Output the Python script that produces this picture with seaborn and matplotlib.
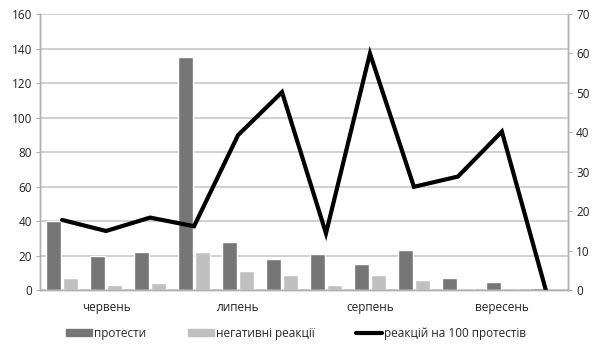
import matplotlib.pyplot as plt
import numpy as np
import pandas as pd
import seaborn as sns

# weekly data, June - September
weeks = [str(i) for i in range(1, 13)]
protests = [40, 20, 22, 135, 28, 18, 21, 15, 23, 7, 5, 1.5]
negative = [7, 3, 4, 22, 11, 9, 3, 9, 6, 1.5, 1.5, 0]
per_100 = [17.8, 15.0, 18.4, 16.2, 39.3, 50.2, 14.4, 60.0, 26.2, 28.8, 40.2, 0]

months = ["червень", "липень", "серпень", "вересень"]
month_weeks = ["2", "5", "8", "11"]

names = ["протести", "негативні реакції", "реакцій на 100 протестів"]

sns.set_style("white")
plt.rcParams["font.family"] = ["Open Sans", "DejaVu Sans"]

df = pd.DataFrame({
    "week": weeks * 2,
    "value": protests + negative,
    "series": [names[0]] * 12 + [names[1]] * 12,
})

fig, ax = plt.subplots(figsize=(5.99, 3.6), dpi=100)
fig.subplots_adjust(left=0.067, right=0.948, bottom=0.194, top=0.961)

sns.barplot(data=df, x="week", y="value", hue="series",
            palette=["#767676", "#c0c0c0"], width=0.76, gap=0.08,
            saturation=1, legend=False, ax=ax, zorder=2)

ax.set_xlim(-0.5, 11.5)
ax.set_ylim(0, 160)
ax.set_yticks(range(0, 161, 20))
ax.yaxis.grid(True, color="#c8c8c8", linewidth=1.2, zorder=0)
ax.set_axisbelow(True)
ax.set_xticks([weeks.index(w) for w in month_weeks])
ax.set_xticklabels(months)
ax.set_xlabel("")
ax.set_ylabel("")
ax.tick_params(axis="x", length=0, pad=8, labelsize=8.5, colors="#222222")
ax.tick_params(axis="y", length=3, color="#b0b0b0", labelcolor="#222222",
               labelsize=8.5, pad=3)

ax2 = ax.twinx()
sns.lineplot(x=np.arange(len(weeks)), y=per_100, color="black",
             linewidth=3, ax=ax2, solid_joinstyle="miter")
ax2.set_ylim(0, 70)
ax2.set_yticks(range(0, 71, 10))
ax2.tick_params(axis="y", length=3, color="#b0b0b0", labelcolor="#222222",
                labelsize=8.5, pad=3)

for a in (ax, ax2):
    a.spines["top"].set_visible(False)
    for s in ("left", "right", "bottom"):
        a.spines[s].set_color("#b0b0b0")
        a.spines[s].set_linewidth(1.0)

handles = [
    plt.Rectangle((0, 0), 1, 1, color="#767676"),
    plt.Rectangle((0, 0), 1, 1, color="#c0c0c0"),
    plt.Line2D([0], [0], color="black", linewidth=3),
]
fig.legend(handles, names, loc="center left", bbox_to_anchor=(0.11, 0.075),
           ncol=3, frameon=False, fontsize=8.5, handlelength=2.2,
           handleheight=0.5, handletextpad=0.2, columnspacing=3.5,
           borderpad=0, borderaxespad=0)

fig.savefig("out.png", dpi=100)
